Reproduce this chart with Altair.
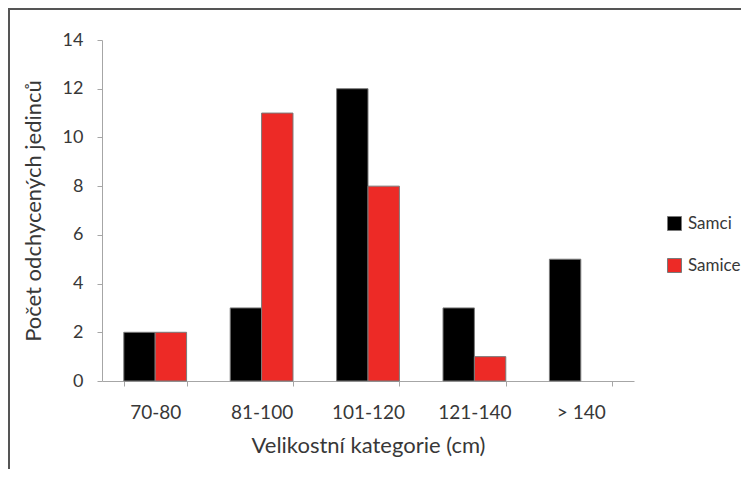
import altair as alt
import pandas as pd

categories = ["70-80", "81-100", "101-120", "121-140", "> 140"]
samci = [2, 3, 12, 3, 5]
samice = [2, 11, 8, 1, 0]
series = ["Samci", "Samice"]
colors = ["#000000", "#ED2A26"]

rows = []
for c, m, f in zip(categories, samci, samice):
    rows.append({"kat": c, "pohlavi": "Samci", "pocet": m})
    rows.append({"kat": c, "pohlavi": "Samice", "pocet": f})
df = pd.DataFrame(rows)

W, H = 532, 341
FONT = "Lato"
TXT = "#383838"

bars = alt.Chart(df).transform_filter("datum.pocet > 0").mark_bar(
    stroke="#7a7a7a", strokeWidth=1
).encode(
    x=alt.X("kat:N", sort=categories,
            scale=alt.Scale(paddingInner=0.41, paddingOuter=0.205),
            axis=alt.Axis(title="Velikostní kategorie (cm)", labelAngle=0,
                          tickBand="extent", tickSize=5, tickColor="#a6a6a6",
                          domainColor="#a6a6a6", labelFontSize=19, labelColor=TXT,
                          labelPadding=17, titleFontSize=22, titleColor=TXT,
                          titleFontWeight="normal", titlePadding=13,
                          labelFont=FONT, titleFont=FONT)),
    xOffset=alt.XOffset("pohlavi:N", sort=series),
    y=alt.Y("pocet:Q", scale=alt.Scale(domain=[0, 14]),
            axis=alt.Axis(title="Počet odchycených jedinců", values=list(range(0, 15, 2)),
                          grid=False, tickSize=5, tickColor="#a6a6a6",
                          domainColor="#a6a6a6", labelFontSize=18, labelColor=TXT,
                          labelPadding=14, titleFontSize=22, titleColor=TXT,
                          titleFontWeight="normal", titlePadding=17,
                          labelFont=FONT, titleFont=FONT)),
    color=alt.Color("pohlavi:N", sort=series,
                    scale=alt.Scale(domain=series, range=colors),
                    legend=alt.Legend(title=None, orient="none", legendX=564, legendY=175,
                                      symbolType="square", symbolSize=196,
                                      symbolStrokeColor="#7a7a7a", symbolStrokeWidth=1,
                                      labelFontSize=17, labelColor=TXT, labelFont=FONT,
                                      rowPadding=23, padding=0, labelOffset=5)),
)

frame = alt.Chart(pd.DataFrame({"a": [0]})).mark_rect(
    fill=None, stroke="#555555", strokeWidth=2
).encode(
    x=alt.value(-93), x2=alt.value(W + 300),
    y=alt.value(-31), y2=alt.value(H + 300),
)

chart = alt.layer(frame, bars).properties(
    width=W, height=H,
    autosize=alt.AutoSizeParams(type="none"),
    padding={"left": 94, "top": 32, "right": 107, "bottom": 88},
).configure_view(stroke=None)

chart.save("out.html", embed_options={"renderer": "svg", "actions": False})
